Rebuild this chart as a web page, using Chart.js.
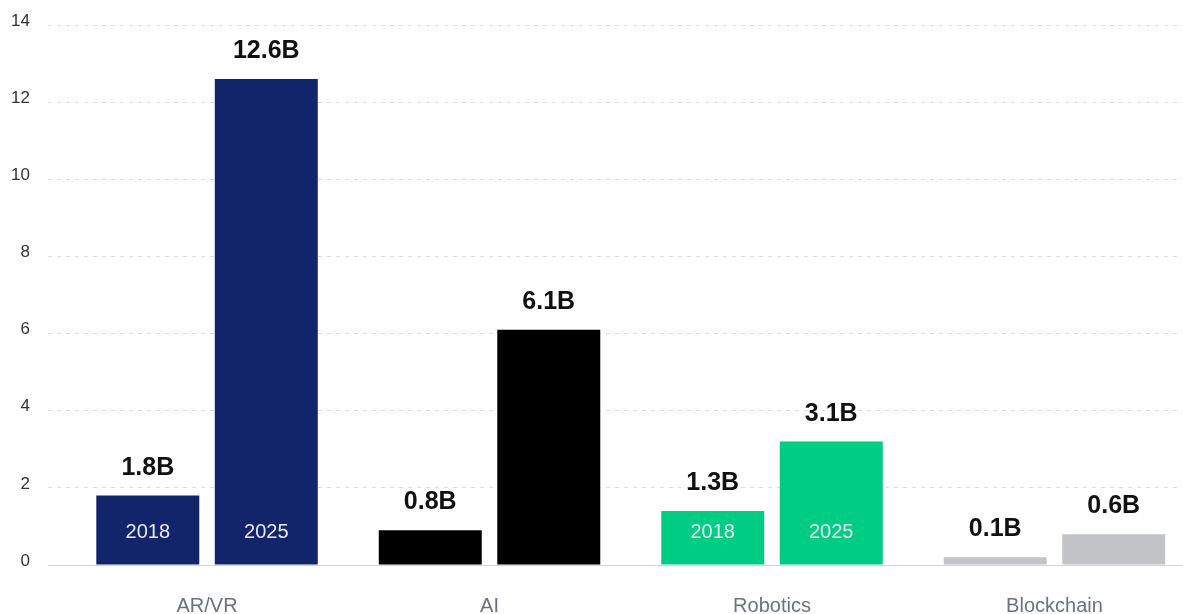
<!DOCTYPE html>
<html>
<head>
<meta charset="utf-8">
<script src="https://cdn.jsdelivr.net/npm/chart.js@4/dist/chart.umd.min.js"></script>
<style>
  html, body { margin: 0; padding: 0; background: #fff; overflow: hidden; }
  #wrap { width: 1183px; height: 614px; position: relative; }
</style>
</head>
<body>
<div id="wrap"><canvas id="myChart"></canvas></div>
<script>
// data
const categories = ['AR/VR', 'AI', 'Robotics', 'Blockchain'];
const years = ['2018', '2025'];
const values2018 = [1.8, 0.9, 1.4, 0.2];
const values2025 = [12.6, 6.1, 3.2, 0.8];
const labels2018 = ['1.8B', '0.8B', '1.3B', '0.1B'];
const labels2025 = ['12.6B', '6.1B', '3.1B', '0.6B'];
const yTicks = [0, 2, 4, 6, 8, 10, 12, 14];
const yearShownIn = ['AR/VR', 'Robotics']; // only these bars carry the year inside

const catColors = ['#12256b', '#000000', '#00cc84', '#c3c4c8'];
const FONT = "'Liberation Sans', Arial, sans-serif";

// bar value labels + year text inside bars
const barLabels = {
  id: 'barLabels',
  afterDatasetsDraw(chart) {
    const ctx = chart.ctx;
    const allLabels = [labels2018, labels2025];
    ctx.save();
    chart.data.datasets.forEach((ds, d) => {
      const meta = chart.getDatasetMeta(d);
      meta.data.forEach((bar, i) => {
        ctx.textAlign = 'center';
        ctx.textBaseline = 'alphabetic';
        ctx.fillStyle = '#111111';
        ctx.font = 'bold 25px ' + FONT;
        ctx.fillText(allLabels[d][i], bar.x, bar.y - 21);

        if (yearShownIn.includes(categories[i])) {
          ctx.textBaseline = 'middle';
          ctx.fillStyle = '#e6e8f0';
          ctx.font = '20px ' + FONT;
          ctx.fillText(years[d], bar.x, bar.base - 32);
        }
      });
    });
    ctx.restore();
  }
};

const ctx = document.getElementById('myChart').getContext('2d');
const myChart = new Chart(ctx, {
  type: 'bar',
  data: {
    datasets: [
      {
        label: years[0],
        data: values2018.map((v, i) => ({ x: i, y: v })),
        backgroundColor: catColors
      },
      {
        label: years[1],
        data: values2025.map((v, i) => ({ x: i, y: v })),
        backgroundColor: catColors
      }
    ]
  },
  options: {
    responsive: true,
    maintainAspectRatio: false,
    animation: false,
    categoryPercentage: 0.839,
    barPercentage: 0.869,
    layout: { padding: { top: 25, right: 0, bottom: 0, left: 0 } },
    plugins: {
      legend: { display: false },
      tooltip: { enabled: false }
    },
    scales: {
      x: {
        type: 'linear',
        offset: false,
        min: -0.563,
        max: 3.455,
        afterFit: (s) => { s.height = 49; },
        grid: { display: false },
        border: { display: true, color: '#d3d5dc', width: 1 },
        ticks: {
          stepSize: 1,
          includeBounds: false,
          autoSkip: false,
          maxRotation: 0,
          padding: 23,
          color: '#6b7180',
          font: { family: FONT, size: 20, lineHeight: 1 },
          callback: (v) => (Number.isInteger(v) && categories[v]) ? categories[v] : ''
        }
      },
      y: {
        min: 0,
        max: 14,
        afterFit: (s) => { s.width = 48; s.paddingTop = 0; s.paddingBottom = 0; },
        afterBuildTicks: (s) => { s.ticks = yTicks.map(v => ({ value: v })); },
        grid: { color: '#dadce0', lineWidth: 1, drawTicks: false },
        border: { display: false, dash: [4, 5] },
        ticks: {
          padding: 18,
          labelOffset: -4,
          color: '#333333',
          font: { family: FONT, size: 17 }
        }
      }
    }
  },
  plugins: [barLabels]
});
</script>
</body>
</html>
